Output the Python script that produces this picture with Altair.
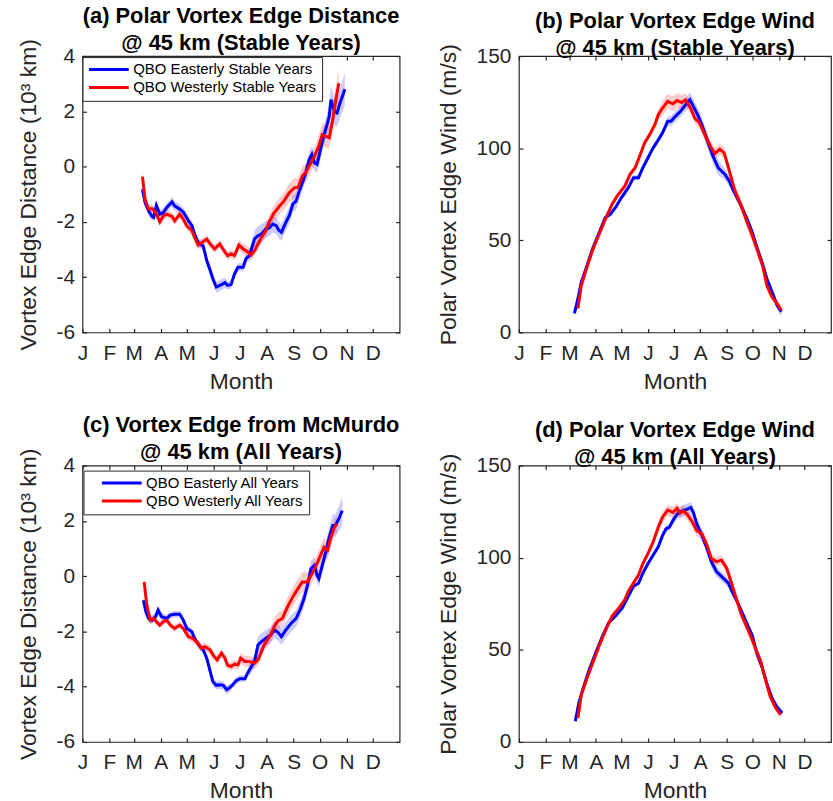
import altair as alt
import pandas as pd

FONT = "Liberation Sans"
INK = "#262626"

MONTH_DAYS = [0, 31, 59, 90, 120, 151, 181, 212, 243, 273, 304, 334]
MONTH_LABELS = ["J", "F", "M", "A", "M", "J", "J", "A", "S", "O", "N", "D"]
DIST_TICKS = [-6, -4, -2, 0, 2, 4]
WIND_TICKS = [0, 50, 100, 150]

# (day of year, mean, half-width of shaded band)
A_EAST = [(69,-0.82,0.12),(72,-1.30,0.15),(76,-1.60,0.15),(80,-1.80,0.15),(82,-1.84,0.15),(85,-1.40,0.15),
          (89,-1.72,0.15),(93,-1.66,0.15),(97,-1.48,0.15),(103,-1.28,0.18),(106,-1.42,0.18),(112,-1.54,0.18),
          (116,-1.64,0.15),(122,-1.96,0.15),(126,-2.14,0.15),(129,-2.44,0.15),(133,-2.74,0.15),(139,-2.88,0.15),
          (143,-3.40,0.18),(147,-3.76,0.2),(150,-4.06,0.2),(154,-4.36,0.2),(160,-4.27,0.2),(164,-4.20,0.18),
          (167,-4.30,0.15),(171,-4.27,0.15),(175,-3.88,0.15),(179,-3.64,0.15),(185,-3.64,0.15),(188,-3.34,0.15),
          (192,-3.22,0.2),(198,-2.62,0.3),(202,-2.50,0.35),(206,-2.44,0.35),(211,-2.26,0.3),(215,-2.22,0.3),
          (219,-2.08,0.3),(223,-2.14,0.3),(226,-2.30,0.3),(229,-2.38,0.3),(234,-2.02,0.3),(238,-1.78,0.3),
          (242,-1.36,0.3),(246,-1.24,0.3),(249,-0.94,0.3),(253,-0.58,0.3),(257,-0.22,0.3),(261,0.26,0.3),
          (264,0.44,0.3),(267,0.14,0.3),(270,0.08,0.3),(274,0.62,0.35),(278,1.16,0.35),(281,1.46,0.4),
          (284,1.82,0.45),(286,2.42,0.5),(290,2.00,0.5),(293,1.94,0.5),(297,2.36,0.55),(302,2.80,0.6)]
A_WEST = [(69,-0.36,0.2),(72,-1.18,0.18),(76,-1.54,0.15),(80,-1.52,0.15),(84,-1.64,0.15),(89,-2.00,0.15),
          (93,-1.78,0.15),(97,-1.72,0.15),(103,-1.80,0.15),(106,-1.96,0.15),(112,-1.72,0.15),(116,-1.90,0.15),
          (120,-2.14,0.15),(126,-2.32,0.15),(129,-2.56,0.15),(133,-2.84,0.15),(137,-2.76,0.15),(143,-2.62,0.15),
          (148,-2.84,0.15),(152,-2.98,0.15),(158,-2.80,0.15),(162,-3.00,0.15),(167,-3.22,0.15),(171,-3.16,0.15),
          (175,-3.22,0.15),(180,-2.84,0.2),(185,-2.98,0.2),(190,-3.08,0.2),(194,-3.20,0.2),(198,-3.04,0.2),
          (202,-2.80,0.2),(206,-2.56,0.2),(211,-2.32,0.25),(215,-2.00,0.25),(220,-1.70,0.3),(226,-1.46,0.3),
          (232,-1.24,0.3),(238,-0.94,0.35),(244,-0.76,0.35),(248,-0.76,0.35),(253,-0.34,0.35),(257,-0.22,0.35),
          (261,0.02,0.35),(267,0.38,0.35),(272,0.74,0.4),(276,1.16,0.4),(280,1.10,0.4),(284,1.04,0.4),
          (288,1.70,0.45),(291,2.30,0.5),(295,3.02,0.5)]

B_EAST = [(65,10.3,1),(69,18.3,1),(73,27.3,1),(79,35.4,1),(86,45.3,1),(94,54.3,1),(101,62.4,1),(107,64.2,1.5),
          (113,67.8,1.5),(120,73.2,1.5),(128,78.6,1.5),(134,84.0,1.5),(140,84.0,1.5),(145,89.4,1.5),(151,94.8,1.5),
          (157,100.2,1.5),(162,103.8,2),(168,108.3,2),(174,114.6,2.5),(178,114.6,3),(183,117.3,3),(189,120.0,3),
          (195,123.6,3.5),(200,126.3,4),(204,122.7,4),(210,117.3,4),(216,110.1,4),(222,102.0,4),(227,95.7,4),
          (233,89.4,4),(241,85.8,3),(246,82.2,3),(252,75.9,2),(260,68.7,2),(267,61.5,2),(273,54.3,2),(279,45.3,2),
          (285,37.2,2),(290,29.1,2.5),(296,22.0,2.5),(302,14.7,2.5),(307,11.2,2.5)]
B_WEST = [(69,13.0,1),(73,25.5,1),(79,34.5,1),(86,44.4,1),(94,53.4,1),(102,62.4,1),(109,69.6,1.5),(115,74.1,1.5),
          (121,77.7,1.5),(124,79.5,1.5),(130,85.8,1.5),(136,89.4,1.5),(142,96.6,1.5),(147,102.9,2),(153,107.4,2),
          (159,112.8,2.5),(163,118.2,3),(168,121.8,4),(174,125.4,4),(180,124.1,4),(185,125.9,4),(190,124.8,4),
          (195,126.3,3.5),(201,121.5,3),(206,116.0,3),(211,114.0,3),(216,109.0,3),(220,104.7,3),(225,100.2,3),
          (229,97.0,3),(235,99.5,3),(240,97.5,3),(246,88.0,3),(252,77.7,3),(260,68.7,3),(267,59.7,3.5),
          (273,52.5,3.5),(279,44.4,3.5),(285,36.3,3),(290,25.5,2.5),(296,19.2,2),(302,15.6,2),(307,12.0,2)]

C_EAST = [(70,-0.87,0.12),(73,-1.29,0.15),(76,-1.53,0.15),(80,-1.59,0.15),(84,-1.47,0.15),(87,-1.23,0.15),
          (91,-1.47,0.15),(97,-1.53,0.12),(101,-1.41,0.12),(106,-1.38,0.12),(112,-1.38,0.12),(116,-1.59,0.12),
          (120,-1.89,0.12),(126,-2.01,0.12),(129,-2.25,0.12),(135,-2.55,0.12),(139,-2.67,0.12),(143,-2.97,0.15),
          (147,-3.45,0.15),(150,-3.81,0.15),(154,-3.95,0.15),(158,-3.93,0.15),(162,-3.95,0.15),(166,-4.11,0.15),
          (169,-4.05,0.15),(173,-3.93,0.12),(177,-3.78,0.12),(181,-3.71,0.12),(187,-3.71,0.12),(190,-3.51,0.15),
          (194,-3.30,0.2),(198,-3.09,0.25),(202,-2.49,0.3),(206,-2.37,0.3),(211,-2.25,0.3),(216,-2.15,0.3),
          (221,-1.95,0.3),(225,-2.03,0.3),(229,-2.19,0.3),(234,-1.95,0.3),(240,-1.71,0.3),(246,-1.53,0.3),
          (251,-1.17,0.3),(255,-0.81,0.3),(259,-0.33,0.3),(263,0.27,0.3),(267,0.39,0.3),(270,0.03,0.3),
          (272,-0.09,0.3),(276,0.39,0.3),(280,0.87,0.35),(284,1.41,0.35),(288,1.83,0.4),(291,1.83,0.4),
          (295,2.07,0.45),(299,2.37,0.5)]
C_WEST = [(71,-0.21,0.2),(74,-1.05,0.18),(78,-1.59,0.15),(82,-1.53,0.12),(85,-1.65,0.12),(89,-1.77,0.12),
          (93,-1.65,0.12),(97,-1.59,0.12),(101,-1.77,0.12),(106,-1.89,0.12),(112,-1.77,0.12),(116,-1.89,0.12),
          (122,-2.19,0.15),(127,-2.25,0.15),(133,-2.43,0.15),(137,-2.61,0.15),(141,-2.55,0.15),(147,-2.67,0.15),
          (150,-2.85,0.15),(155,-3.03,0.15),(160,-2.79,0.15),(164,-2.97,0.15),(167,-3.23,0.15),(171,-3.27,0.15),
          (175,-3.18,0.15),(179,-3.21,0.15),(182,-2.97,0.2),(187,-3.09,0.2),(192,-3.09,0.2),(198,-3.15,0.2),
          (202,-3.03,0.2),(206,-2.73,0.2),(209,-2.49,0.2),(213,-2.30,0.25),(217,-2.10,0.25),(221,-1.80,0.3),
          (225,-1.62,0.3),(230,-1.53,0.3),(236,-1.11,0.35),(242,-0.75,0.35),(248,-0.45,0.35),(253,-0.21,0.35),
          (259,-0.21,0.35),(263,0.03,0.35),(269,0.39,0.35),(274,0.75,0.35),(278,1.05,0.35),(282,0.93,0.35),
          (286,1.41,0.35),(290,1.77,0.3),(293,1.89,0.3)]

D_EAST = [(66,11.2,1),(70,21.0,1),(75,29.1,1),(82,38.9,1),(90,48.7,1),(98,57.7,1),(105,64.8,1),(113,68.4,1),
          (121,72.8,1),(128,79.1,1),(134,84.5,1),(140,86.2,1),(145,91.6,1),(151,96.9,1),(157,101.4,1),
          (163,105.9,1.5),(168,112.1,1.5),(172,115.7,2),(176,116.6,2),(180,120.1,2.5),(185,123.7,2.5),
          (191,125.5,3),(197,126.4,3),(201,127.3,3),(204,124.6,3),(208,118.4,3),(214,112.1,3),(220,105.0,3),
          (225,97.9,3),(231,92.5,3),(239,88.9,2.5),(245,86.2,2.5),(250,80.9,2),(256,75.5,2),(262,69.3,2),
          (267,63.9,2),(273,57.7,2),(279,47.0,2),(285,39.8,2),(290,31.8,2),(296,23.7,2),(302,18.7,2),(308,15.7,2)]
D_WEST = [(69,13.0,1),(73,25.5,1),(79,33.6,1),(86,42.5,1),(94,52.3,1),(102,61.2,1),(109,68.4,1),(117,72.8,1),
          (124,77.3,1.5),(128,81.8,1.5),(134,86.2,1.5),(140,90.7,1.5),(145,96.9,1.5),(151,102.3,1.5),
          (157,108.6,2),(163,116.6,2.5),(168,122.0,3),(174,125.9,3),(180,124.6,3),(185,126.9,3),(188,124.1,3),
          (192,125.5,3),(197,123.5,3),(203,119.3,3),(208,114.7,3),(214,113.0,3),(220,106.8,2.5),(225,99.6,2.5),
          (231,97.9,2.5),(237,98.7,2.5),(243,94.3,2.5),(248,87.2,2.5),(254,78.2,2.5),(260,69.3,3),(266,63.0,3),
          (271,57.7,3),(277,50.5,3),(283,43.4,3),(288,34.4,2.5),(294,24.6,2),(300,18.7,2),(306,14.8,2)]

STABLE_NAMES = ["QBO Easterly Stable Years", "QBO Westerly Stable Years"]
ALL_NAMES = ["QBO Easterly All Years", "QBO Westerly All Years"]
COLORS = ["#0000ff", "#ff0000"]

W_LEFT, W_RIGHT, H = 319, 314, 278


def frame(names, series):
    rows = []
    for name, pts in zip(names, series):
        for d, v, s in pts:
            rows.append({"day": d, "val": v, "lo": v - s, "hi": v + s, "series": name})
    return pd.DataFrame(rows)


MONTH_EXPR = ("[" + ",".join("'%s'" % m for m in MONTH_LABELS) + "][indexof(["
              + ",".join(str(d) for d in MONTH_DAYS) + "], datum.value)]")


def panel(df, names, ydom, yticks, ytitle, title, width, legend=None):
    xs = alt.Scale(domain=[0, 365], nice=False, zero=False)
    ys = alt.Scale(domain=ydom, nice=False, zero=False)
    cs = alt.Scale(domain=names, range=COLORS)
    common = dict(grid=False, domain=False, labelFlush=False, labelOverlap=False)
    x_main = alt.Axis(values=MONTH_DAYS, labelExpr=MONTH_EXPR, title="Month", ticks=False,
                      labelFont=FONT, labelFontSize=21, labelColor=INK, labelPadding=10,
                      titleFont=FONT, titleFontSize=23, titleFontWeight="normal", titleColor=INK,
                      titlePadding=7, **common)
    y_main = alt.Axis(values=yticks, labelExpr="toString(datum.value)", title=ytitle, ticks=False,
                      labelFont=FONT, labelFontSize=21, labelColor=INK, labelPadding=8,
                      titleFont=FONT, titleFontSize=23, titleFontWeight="normal", titleColor=INK,
                      titlePadding=16, **common)
    tick_kw = dict(labels=False, title=None, ticks=True, tickSize=4, tickWidth=1.2, tickColor=INK, **common)
    x_in_bottom = alt.Axis(values=MONTH_DAYS, orient="top", offset=-H, **tick_kw)
    y_in_left = alt.Axis(values=yticks, orient="right", offset=-width, **tick_kw)
    x_in_top = alt.Axis(values=MONTH_DAYS, orient="bottom", offset=-H, **tick_kw)
    y_in_right = alt.Axis(values=yticks, orient="left", offset=-width, **tick_kw)

    base = alt.Chart(df)
    bands = [
        base.transform_filter(alt.datum.series == name).mark_area(color=col, opacity=0.2).encode(
            x=alt.X("day:Q", scale=xs, axis=x_main),
            y=alt.Y("lo:Q", scale=ys, axis=y_main),
            y2="hi:Q",
        )
        for name, col in zip(names, COLORS)
    ]
    line = base.mark_line(strokeWidth=3).encode(
        x=alt.X("day:Q", scale=xs, axis=x_in_bottom),
        y=alt.Y("val:Q", scale=ys, axis=y_in_left),
        stroke=alt.Stroke("series:N", scale=cs, legend=legend),
    )
    ghost = base.mark_line(strokeOpacity=0).encode(
        x=alt.X("day:Q", scale=xs, axis=x_in_top),
        y=alt.Y("val:Q", scale=ys, axis=y_in_right),
        detail="series:N",
    )
    return alt.layer(bands[0] + bands[1], line, ghost).resolve_axis(x="independent", y="independent").properties(
        width=width, height=H,
        title=alt.TitleParams(text=title, font=FONT, fontSize=22, fontWeight="bold", color="black",
                              anchor="middle", frame="group", lineHeight=27, offset=-16),
    )


def legend(x, y, sym_offset):
    return alt.Legend(title=None, orient="none", legendX=x, legendY=y, direction="vertical",
                      labelFont=FONT, labelFontSize=15, labelColor="black", labelLimit=400,
                      symbolType="stroke", symbolSize=1600, symbolStrokeWidth=3,
                      symbolOffset=sym_offset, labelOffset=3, rowPadding=2, clipHeight=15,
                      strokeColor=INK, fillColor="white", padding=5)


DIST_TITLE = "Vortex Edge Distance (10\u00b3 km)"
WIND_TITLE = "Polar Vortex Edge Wind (m/s)"

pa = panel(frame(STABLE_NAMES, [A_EAST, A_WEST]), STABLE_NAMES, [-6, 4], DIST_TICKS, DIST_TITLE,
           ["(a) Polar Vortex Edge Distance", "@ 45 km (Stable Years)"], W_LEFT, legend(0, 1, 0))
pb = panel(frame(STABLE_NAMES, [B_EAST, B_WEST]), STABLE_NAMES, [0, 150], WIND_TICKS, WIND_TITLE,
           ["(b) Polar Vortex Edge Wind", "@ 45 km (Stable Years)"], W_RIGHT, None)
pc = panel(frame(ALL_NAMES, [C_EAST, C_WEST]), ALL_NAMES, [-6, 4], DIST_TICKS, DIST_TITLE,
           ["(c) Vortex Edge from McMurdo", "@ 45 km (All Years)"], W_LEFT, legend(1, 5, 12))
pd_ = panel(frame(ALL_NAMES, [D_EAST, D_WEST]), ALL_NAMES, [0, 150], WIND_TICKS, WIND_TITLE,
            ["(d) Polar Vortex Edge Wind", "@ 45 km (All Years)"], W_RIGHT, None)

row1 = alt.hconcat(pa, pb, spacing=35).resolve_scale(stroke="independent")
row2 = alt.hconcat(pc, pd_, spacing=35).resolve_scale(stroke="independent")
chart = alt.vconcat(row1, row2, spacing=19).resolve_scale(stroke="independent").properties(
    padding={"left": 16, "top": 1, "right": 0, "bottom": 0}, background="white"
).configure_view(stroke=INK, strokeWidth=1.2)

chart.save("out.html", embed_options={"renderer": "svg", "actions": False})
